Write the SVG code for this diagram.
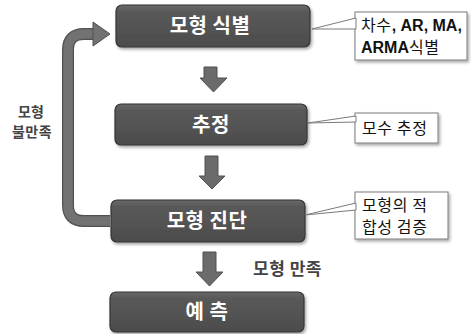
<svg xmlns="http://www.w3.org/2000/svg" width="471" height="334" viewBox="0 0 471 334">
<defs>
<linearGradient id="g" x1="0" y1="0" x2="0" y2="1">
<stop offset="0" stop-color="#6a6a6a"/>
<stop offset="0.15" stop-color="#595959"/>
<stop offset="1" stop-color="#4c4c4c"/>
</linearGradient>
<filter id="sh" x="-10%" y="-20%" width="130%" height="150%">
<feDropShadow dx="1.5" dy="2" stdDeviation="1.5" flood-color="#000" flood-opacity="0.35"/>
</filter>
</defs>
<style>
.node rect{fill:url(#g);stroke:#353535;stroke-width:1.2;filter:url(#sh)}
.nt{font-family:"Noto Sans CJK KR","Noto Sans",sans-serif;font-weight:700;font-size:20px;fill:#fff;text-anchor:middle;letter-spacing:0.5px}
.call rect{fill:#fff;stroke:#7a7a7a;stroke-width:1;filter:url(#sh)}
.call polygon{fill:#fff;stroke:#7a7a7a;stroke-width:1}
.ct{font-family:"Noto Sans CJK KR","Noto Sans",sans-serif;font-size:16px;fill:#111;letter-spacing:0.6px}
.b{font-family:"Liberation Sans",sans-serif;font-weight:700;letter-spacing:0}
.lbl{font-family:"Noto Sans CJK KR","Noto Sans",sans-serif;font-weight:700;fill:#444}
.dn{fill:#6b6b6b;stroke:#505050;stroke-width:1}
</style>
<g id="connectors">
<path d="M110 221 H84 Q68 221 68 205 V50 Q68 34 84 34 H95" fill="none" stroke="#505050" stroke-width="12"/>
<path d="M110 221 H84 Q68 221 68 205 V50 Q68 34 84 34 H95" fill="none" stroke="#727272" stroke-width="9.5"/>
<polygon points="93,22 110,34 93,46" fill="#727272" stroke="#505050" stroke-width="1"/>
<polygon class="dn" points="204,67 217,67 217,78 227,78 213.5,92 200,78 204,78"/>
<polygon class="dn" points="205,156 218,156 218,176 225,176 212,189 199,176 205,176"/>
<polygon class="dn" points="203,252 216,252 216,272 223,272 209.5,286 196,272 203,272"/>
</g>
<g id="n1" class="node"><rect x="116" y="5" width="194" height="42" rx="6"/><text class="nt" x="210" y="33">모형 식별</text></g>
<g id="n2" class="node"><rect x="115" y="104" width="192" height="41" rx="6"/><text class="nt" x="211" y="132">추정</text></g>
<g id="n3" class="node"><rect x="111" y="200" width="194" height="42" rx="6"/><text class="nt" x="207" y="228">모형 진단</text></g>
<g id="n4" class="node"><rect x="110" y="292" width="194" height="40" rx="6"/><text class="nt" x="207" y="319">예 측</text></g>
<g id="c1" class="call"><rect x="355" y="12" width="112" height="48"/><polygon points="356,18 312,29 356,29"/><text class="ct" x="361" y="31">차수<tspan class="b">, AR, MA,</tspan></text><text class="ct" x="361" y="53"><tspan class="b">ARMA</tspan>식별</text></g>
<g id="c2" class="call"><rect x="355" y="113" width="83" height="30"/><polygon points="356,116 308,123 356,122"/><text class="ct" x="362" y="134">모수 추정</text></g>
<g id="c3" class="call"><rect x="355" y="192" width="93" height="47"/><polygon points="356,203 305,215 356,210"/><text class="ct" x="362" y="211">모형의 적</text><text class="ct" x="362" y="233">합성 검증</text></g>
<g id="l1"><text class="lbl" x="31" y="117" font-size="14" text-anchor="middle">모형</text><text class="lbl" x="32" y="137" font-size="14" text-anchor="middle" letter-spacing="0.5">불만족</text></g>
<g id="l2"><text class="lbl" x="253" y="275" font-size="17" letter-spacing="0.5">모형 만족</text></g>
</svg>
